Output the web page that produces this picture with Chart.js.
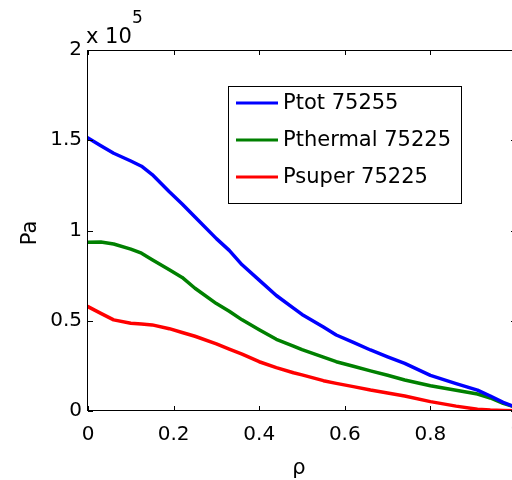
<!DOCTYPE html>
<html>
<head>
<meta charset="utf-8">
<script src="https://cdn.jsdelivr.net/npm/chart.js@4.4.0/dist/chart.umd.min.js"></script>
<style>
  html, body { margin: 0; padding: 0; background: #fff; overflow: hidden; width: 512px; height: 480px; }
  #wrap { width: 518px; height: 480px; }
</style>
</head>
<body>
<div id="wrap"><canvas id="c" width="518" height="480"></canvas></div>
<script>
// rho grid (x values)
const rho = [0, 0.03, 0.06, 0.1, 0.125, 0.15, 0.19, 0.22, 0.25, 0.3, 0.33, 0.36, 0.4, 0.44, 0.48, 0.5, 0.55, 0.58, 0.62, 0.66, 0.7, 0.74, 0.8, 0.86, 0.91, 0.94, 0.97, 1.0];
// pressures in units of 1e5 Pa
const ptot =     [1.513, 1.47, 1.428, 1.385, 1.356, 1.31, 1.215, 1.147, 1.075, 0.955, 0.89, 0.81, 0.725, 0.64, 0.57, 0.535, 0.465, 0.421, 0.38, 0.338, 0.30, 0.264, 0.197, 0.152, 0.116, 0.083, 0.048, 0.02];
const pthermal = [0.935, 0.936, 0.925, 0.897, 0.874, 0.838, 0.782, 0.74, 0.68, 0.595, 0.553, 0.505, 0.45, 0.397, 0.36, 0.34, 0.298, 0.273, 0.248, 0.222, 0.198, 0.172, 0.14, 0.115, 0.094, 0.072, 0.042, 0.02];
const psuper =   [0.578, 0.541, 0.505, 0.486, 0.482, 0.477, 0.456, 0.435, 0.414, 0.372, 0.343, 0.315, 0.273, 0.24, 0.212, 0.2, 0.168, 0.153, 0.135, 0.116, 0.1, 0.083, 0.052, 0.027, 0.01, 0.005, 0.003, 0.002];
const seriesLabels = ['Ptot 75255', 'Pthermal 75225', 'Psuper 75225'];
const seriesColors = ['#0000ff', '#008000', '#ff0000'];
const xTicks = [0, 0.2, 0.4, 0.6, 0.8, 1];
const yTicks = [0, 0.5, 1, 1.5, 2];
const xTitle = 'ρ';
const yTitle = 'Pa';
const exponentText = 'x 10';
const exponentPower = '5';

const FONT = '"DejaVu Sans", sans-serif';

function pts(ys) { return rho.map((x, i) => ({ x: x, y: ys[i] })); }
function fmt(v) { return String(Number(v.toFixed(2))); }

const decor = {
  id: 'decor',
  afterDraw(chart) {
    const ctx = chart.ctx;
    const a = chart.chartArea;
    const xs = chart.scales.x, ys = chart.scales.y;
    ctx.save();
    ctx.strokeStyle = '#000';
    ctx.lineWidth = 1;
    // box
    ctx.strokeRect(Math.round(a.left) - 0.5, Math.round(a.top) + 0.5, Math.round(a.right - a.left), Math.round(a.bottom - a.top) - 1);
    // inward ticks
    ctx.beginPath();
    xTicks.forEach(v => {
      const px = Math.round(xs.getPixelForValue(v)) + 0.5;
      ctx.moveTo(px, a.bottom); ctx.lineTo(px, a.bottom - 5);
      ctx.moveTo(px, a.top); ctx.lineTo(px, a.top + 5);
    });
    yTicks.forEach(v => {
      const py = Math.round(ys.getPixelForValue(v)) + 0.5;
      ctx.moveTo(a.left, py); ctx.lineTo(a.left + 5, py);
      ctx.moveTo(a.right, py); ctx.lineTo(a.right - 5, py);
    });
    ctx.stroke();

    // legend
    const lx = 228.5, ly = 86.5, lw = 233, lh = 117;
    ctx.fillStyle = '#fff';
    ctx.fillRect(lx, ly, lw, lh);
    ctx.strokeRect(lx, ly, lw, lh);
    const rows = [103, 140, 177];
    ctx.font = '21px ' + FONT;
    ctx.textAlign = 'left';
    ctx.textBaseline = 'middle';
    chart.data.datasets.forEach((ds, i) => {
      ctx.strokeStyle = ds.borderColor;
      ctx.lineWidth = 3;
      ctx.beginPath();
      ctx.moveTo(236, rows[i]); ctx.lineTo(278, rows[i]);
      ctx.stroke();
      ctx.fillStyle = '#000';
      ctx.fillText(ds.label, 283, rows[i] + 1);
    });

    // axis titles
    ctx.fillStyle = '#000';
    ctx.font = '21px ' + FONT;
    ctx.textAlign = 'center';
    ctx.textBaseline = 'alphabetic';
    ctx.fillText(xTitle, 299, 474);
    ctx.save();
    ctx.translate(36, 233);
    ctx.rotate(-Math.PI / 2);
    ctx.fillText(yTitle, 0, 0);
    ctx.restore();

    // exponent label
    ctx.textAlign = 'left';
    ctx.font = '21px ' + FONT;
    ctx.fillText(exponentText, 86, 43);
    ctx.font = '17px ' + FONT;
    ctx.fillText(exponentPower, 132, 23);
    ctx.restore();
  }
};

new Chart(document.getElementById('c'), {
  type: 'line',
  data: {
    datasets: [
      { label: seriesLabels[0], data: pts(ptot), borderColor: seriesColors[0] },
      { label: seriesLabels[1], data: pts(pthermal), borderColor: seriesColors[1] },
      { label: seriesLabels[2], data: pts(psuper), borderColor: seriesColors[2] }
    ]
  },
  options: {
    responsive: false,
    animation: false,
    devicePixelRatio: 1,
    parsing: false,
    layout: { padding: { top: 50, right: 2, left: 0, bottom: 0 } },
    elements: {
      point: { radius: 0 },
      line: { borderWidth: 3.5, tension: 0, fill: false, borderJoinStyle: 'round', borderCapStyle: 'round' }
    },
    plugins: { legend: { display: false }, tooltip: { enabled: false }, title: { display: false } },
    scales: {
      x: {
        type: 'linear', min: 0, max: 1,
        afterFit(s) { s.height = 69; s.paddingLeft = 0; s.paddingRight = 0; },
        afterBuildTicks(s) { s.ticks = xTicks.map(v => ({ value: v })); },
        ticks: { color: '#000', font: { family: FONT, size: 20 }, padding: 12, maxRotation: 0, autoSkip: false, callback: v => fmt(v) },
        grid: { display: false, drawTicks: false },
        border: { display: false }
      },
      y: {
        type: 'linear', min: 0, max: 2,
        afterFit(s) { s.width = 88; s.paddingTop = 0; s.paddingBottom = 0; },
        afterBuildTicks(s) { s.ticks = yTicks.map(v => ({ value: v })); },
        ticks: { color: '#000', font: { family: FONT, size: 20 }, padding: 6, autoSkip: false, callback: v => fmt(v) },
        grid: { display: false, drawTicks: false },
        border: { display: false }
      }
    }
  },
  plugins: [decor]
});
</script>
</body>
</html>
